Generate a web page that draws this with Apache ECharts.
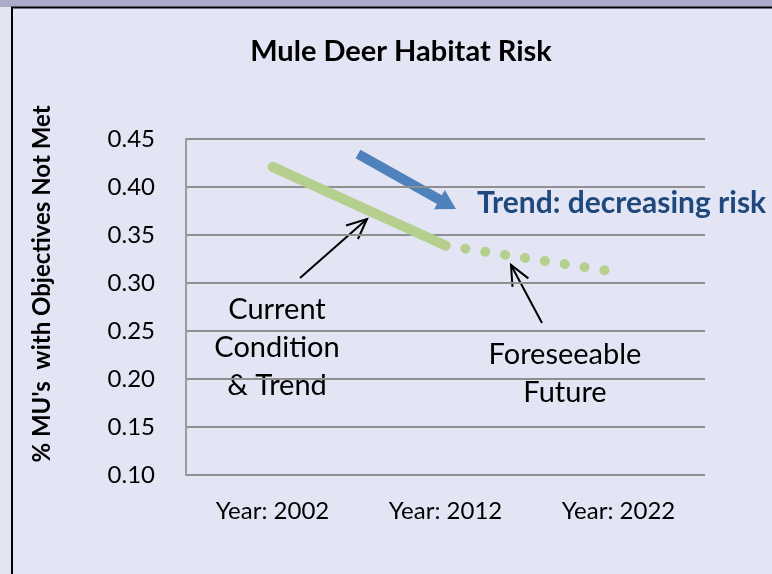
<!DOCTYPE html>
<html>
<head>
<meta charset="utf-8">
<script src="https://cdn.jsdelivr.net/npm/echarts@6/dist/echarts.min.js"></script>
<style>
  html, body { margin: 0; padding: 0; background: #e3e5f4; }
  #main { width: 772px; height: 574px; }
</style>
</head>
<body>
<div id="main"></div>
<script>
// data
var years = ['Year: 2002', 'Year: 2012', 'Year: 2022'];
var current = [0.421, 0.339, null];
var future = [null, 0.339, 0.311];
var yTicks = { min: 0.10, max: 0.45, step: 0.05 };

var green = '#b5cf8e';
var txtFont = 'Lato, "Open Sans", sans-serif';

// blue trend arrow (annotation only)
function arrowPoly(x1, y1, x2, y2, half, headLen, headHalf) {
    var dx = x2 - x1, dy = y2 - y1;
    var len = Math.sqrt(dx * dx + dy * dy);
    var ux = dx / len, uy = dy / len;
    var nx = -uy, ny = ux;
    var bx = x2 - ux * headLen, by = y2 - uy * headLen;
    return [
        [x1 + nx * half, y1 + ny * half],
        [bx + nx * half, by + ny * half],
        [bx + nx * headHalf, by + ny * headHalf],
        [x2, y2],
        [bx - nx * headHalf, by - ny * headHalf],
        [bx - nx * half, by - ny * half],
        [x1 - nx * half, y1 - ny * half]
    ];
}

function blackArrow(x1, y1, x2, y2) {
    var dx = x2 - x1, dy = y2 - y1;
    var len = Math.sqrt(dx * dx + dy * dy);
    var ux = dx / len, uy = dy / len;
    var h = 20, w = 9;
    var s = { stroke: '#000', lineWidth: 2, fill: null };
    return [
        { type: 'line', shape: { x1: x1, y1: y1, x2: x2, y2: y2 }, style: s },
        { type: 'polyline', shape: { points: [
            [x2 - ux * h - uy * w, y2 - uy * h + ux * w],
            [x2, y2],
            [x2 - ux * h + uy * w, y2 - uy * h - ux * w]
        ] }, style: s }
    ];
}

var chart = echarts.init(document.getElementById('main'));

var graphics = [
    // frame
    { type: 'rect', shape: { x: 0, y: 0, width: 772, height: 7 }, style: { fill: '#a9abc9' } },
    { type: 'line', shape: { x1: 11, y1: 7.5, x2: 772, y2: 7.5 }, style: { stroke: '#000', lineWidth: 2 } },
    { type: 'line', shape: { x1: 12, y1: 7, x2: 12, y2: 574 }, style: { stroke: '#000', lineWidth: 2 } },
    // y axis name
    {
        type: 'text', x: 42, y: 284, rotation: Math.PI / 2,
        style: {
            text: "% MU's  with Objectives Not Met", font: 'bold 24px ' + txtFont,
            fill: '#000', align: 'center', verticalAlign: 'middle'
        }
    },
    {
        type: 'polygon',
        shape: { points: arrowPoly(358, 154, 456, 209, 5, 19, 11) },
        style: { fill: '#4f81bd' }
    },
    {
        type: 'text', x: 477, y: 203,
        style: {
            text: 'Trend: decreasing risk', font: 'bold 30px ' + txtFont,
            fill: '#1f497d', align: 'left', verticalAlign: 'middle'
        }
    },
    {
        type: 'text', x: 277, y: 348,
        style: {
            text: 'Current\nCondition\n& Trend', font: '29px ' + txtFont, lineHeight: 38,
            fill: '#000', align: 'center', verticalAlign: 'middle'
        }
    },
    {
        type: 'text', x: 565, y: 374,
        style: {
            text: 'Foreseeable\nFuture', font: '29px ' + txtFont, lineHeight: 38,
            fill: '#000', align: 'center', verticalAlign: 'middle'
        }
    }
].concat(blackArrow(300, 278, 367, 219), blackArrow(542, 323, 511, 265));

chart.setOption({
    backgroundColor: '#e3e5f4',
    animation: false,
    title: {
        text: 'Mule Deer Habitat Risk',
        left: 396, top: 32,
        textAlign: 'center',
        textStyle: { fontFamily: txtFont, fontSize: 29, fontWeight: 'bold', color: '#000' }
    },
    grid: { left: 186, right: 67, top: 139, bottom: 99 },
    xAxis: {
        type: 'category',
        data: years,
        boundaryGap: true,
        axisLine: { show: false },
        axisTick: { show: false },
        axisLabel: { margin: 24, fontFamily: txtFont, fontSize: 24, color: '#000' }
    },
    yAxis: {
        type: 'value',
        min: yTicks.min, max: yTicks.max, interval: yTicks.step,
        axisLine: { show: true, lineStyle: { color: '#9a9a9a', width: 2 } },
        axisTick: { show: false },
        splitLine: { lineStyle: { color: '#8f8f8f', width: 2 } },
        axisLabel: {
            margin: 31, fontFamily: txtFont, fontSize: 24, color: '#000',
            formatter: function (v) { return v.toFixed(2); }
        }
    },
    series: [
        {
            type: 'line', data: current, symbol: 'none',
            lineStyle: { color: green, width: 10, cap: 'round' }
        },
        {
            type: 'line', data: future, symbol: 'none',
            lineStyle: { color: green, width: 10, cap: 'round', type: [0.1, 20] }
        }
    ],
    graphic: graphics
});
</script>
</body>
</html>
